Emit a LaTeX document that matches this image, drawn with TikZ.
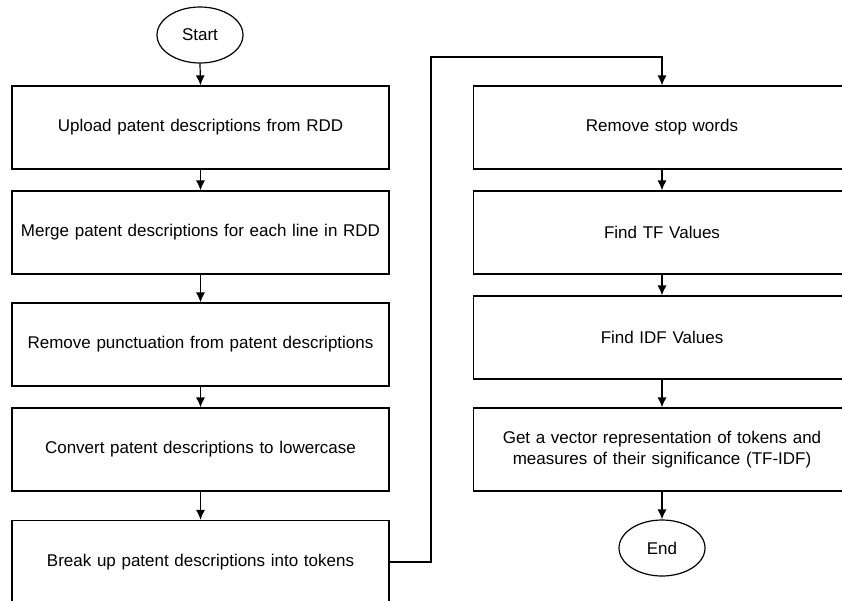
\documentclass[tikz,border=0pt]{standalone}
\usepackage{fontspec}
\setmainfont{Liberation Sans}
\usetikzlibrary{arrows.meta}
\usetikzlibrary{shapes}

\begin{document}
\begin{tikzpicture}[x=1pt,y=-1pt,
  box/.style={rectangle,draw=black,line width=1.2pt,text width=361pt,inner sep=8pt,minimum height=83pt},
  oval/.style={ellipse,draw=black,line width=1.2pt,minimum width=86pt,minimum height=56pt,inner sep=0pt},
  flow/.style={line width=1.2pt,-{Latex[length=10pt,width=9pt]}}]
\clip (0,0) rectangle (842,600);
\fontsize{17}{21}\selectfont
\node(S) at (200,35) [oval]{Start};
\node(A) at (200.5,127.5) [box]{\centerline{Upload patent descriptions from RDD}};
\node(B) at (200.5,232.5) [box]{\centerline{Merge patent descriptions for each line in RDD}};
\node(C) at (200.5,344.5) [box]{\centerline{Remove punctuation from patent descriptions}};
\node(D) at (200.5,449.5) [box]{\centerline{Convert patent descriptions to lowercase}};
\node(E) at (200.5,562) [box]{\centerline{Break up patent descriptions into tokens}};
\node(F) at (662,127.5) [box]{\centerline{Remove stop words}};
\node(G) at (662,232.5) [box]{\centerline{Find TF Values}};
\node(H) at (662,337.5) [box]{\centerline{Find IDF Values}};
\node(I) at (662,449.5) [box]{\centerline{Get a vector representation of tokens and} \centerline{measures of their significance (TF-IDF)}};
\node(Z) at (662,548) [oval]{End};
\coordinate(K) at (431,57);

\draw[flow] (S.south) -- (A.north);
\draw[flow] (A.south) -- (B.north);
\draw[flow] (B.south) -- (C.north);
\draw[flow] (C.south) -- (D.north);
\draw[flow] (D.south) -- (E.north);
\draw[flow] (E.east) -| (K) -| (F.north);
\draw[flow] (F.south) -- (G.north);
\draw[flow] (G.south) -- (H.north);
\draw[flow] (H.south) -- (I.north);
\draw[flow] (I.south) -- (Z.north);
\end{tikzpicture}
\end{document}
